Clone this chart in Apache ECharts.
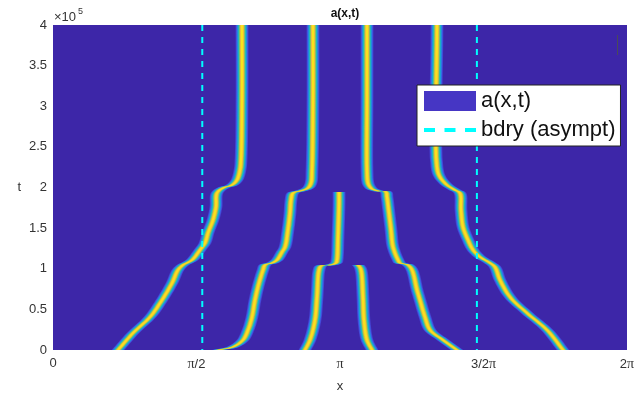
<!DOCTYPE html>
<html>
<head>
<meta charset="utf-8">
<title>a(x,t)</title>
<script src="https://cdn.jsdelivr.net/npm/echarts@6/dist/echarts.min.js"></script>
<style>
  html, body { margin: 0; padding: 0; background: #ffffff; }
  #chart { width: 634px; height: 394px; }
</style>
</head>
<body>
<div id="chart"></div>
<script>
// Spike trajectories of a(x,t): each entry is [x, t]
const spikeL1 = [
  [0.712, 0], [0.876, 20900], [1.062, 40600], [1.193, 61500], [1.303, 82500],
  [1.368, 98500], [1.423, 104600], [1.522, 110800], [1.609, 123100], [1.664, 131700],
  [1.697, 144000], [1.751, 160000], [1.784, 176000], [1.795, 193200], [1.861, 199400],
  [1.959, 203100], [2.014, 209200], [2.047, 221500], [2.058, 233800], [2.069, 307700],
  [2.069, 400000]
];
const spikeL2 = [
  [1.806, 0], [1.970, 3700], [2.080, 12300], [2.135, 24600], [2.178, 40600],
  [2.211, 61500], [2.255, 82500], [2.299, 98500], [2.321, 104600], [2.397, 107100],
  [2.452, 110800], [2.507, 120600], [2.540, 126800], [2.572, 147700], [2.594, 168600],
  [2.605, 184600], [2.627, 193200], [2.704, 195700], [2.791, 199400], [2.824, 205500],
  [2.835, 221500], [2.846, 307700], [2.846, 400000]
];
const spikeL3 = [
  [2.759, 0], [2.813, 12300], [2.868, 36900], [2.890, 65200], [2.912, 98500],
  [2.934, 103400], [3.032, 104600], [3.098, 107100], [3.109, 110800], [3.120, 139100],
  [3.131, 180900], [3.131, 194500]
];
const spikeR3 = [
  [3.492, 0], [3.437, 12300], [3.404, 36900], [3.393, 65200], [3.372, 98500],
  [3.350, 103400], [3.339, 104600]
];
const spikeR2 = [
  [4.422, 0], [4.269, 12300], [4.127, 24600], [4.072, 40600], [4.017, 61500],
  [3.985, 73800], [3.930, 98500], [3.886, 104600], [3.798, 107100], [3.777, 110800],
  [3.722, 126800], [3.700, 147700], [3.678, 168600], [3.656, 188300], [3.645, 194500],
  [3.558, 195700], [3.492, 198200], [3.470, 200600], [3.448, 205500], [3.437, 221500],
  [3.437, 307700], [3.437, 400000]
];
const spikeR1 = [
  [5.583, 0], [5.408, 24600], [5.189, 45500], [5.003, 65200], [4.893, 86200],
  [4.838, 102200], [4.784, 107100], [4.674, 114500], [4.598, 123100], [4.543, 135400],
  [4.488, 151400], [4.466, 172300], [4.455, 193200], [4.400, 196900], [4.313, 203100],
  [4.236, 212900], [4.203, 225200], [4.203, 400000]
];

// Asymptotic boundary positions (x)
const bdryX = [1.634, 4.640];

// Axis extents and tick labels
const tRange = [0, 400000];
const xTickLabels = ['0', '{p|\u03c0}/2', '{p|\u03c0}', '3/2{p|\u03c0}', '2{p|\u03c0}'];
const tTickLabels = ['0', '0.5', '1', '1.5', '2', '2.5', '3', '3.5', '4'];

const FONT = '"Liberation Sans", Arial, Helvetica, sans-serif';
const BG = '#3d26a8';

// Cross-section of a spike: horizontal half-width (px) and parula colour, outermost first
const spikeLayers = [
  [6.4, '#4542d2'],
  [5.6, '#3a66e6'],
  [4.8, '#1e94e0'],
  [4.0, '#14b4c8'],
  [3.3, '#4cc192'],
  [2.6, '#a6c24c'],
  [1.9, '#f2bb3c'],
  [1.1, '#f9e31c']
];

// Centripetal Catmull-Rom through pixel points, for a smooth outline
function smoothPath(pts, steps) {
  if (pts.length < 3) return pts.slice();
  const out = [];
  const ext = [
    [2 * pts[0][0] - pts[1][0], 2 * pts[0][1] - pts[1][1]]
  ].concat(pts, [[
    2 * pts[pts.length - 1][0] - pts[pts.length - 2][0],
    2 * pts[pts.length - 1][1] - pts[pts.length - 2][1]
  ]]);
  function knot(a, b) {
    const d = Math.hypot(b[0] - a[0], b[1] - a[1]);
    return Math.max(Math.sqrt(d), 1e-3);
  }
  function lerp(a, b, ta, tb, t) {
    const u = (t - ta) / (tb - ta);
    return [a[0] + (b[0] - a[0]) * u, a[1] + (b[1] - a[1]) * u];
  }
  for (let i = 1; i < ext.length - 2; i++) {
    const p0 = ext[i - 1], p1 = ext[i], p2 = ext[i + 1], p3 = ext[i + 2];
    const t0 = 0, t1 = t0 + knot(p0, p1), t2 = t1 + knot(p1, p2), t3 = t2 + knot(p2, p3);
    for (let s = 0; s < steps; s++) {
      const t = t1 + (t2 - t1) * s / steps;
      const a1 = lerp(p0, p1, t0, t1, t);
      const a2 = lerp(p1, p2, t1, t2, t);
      const a3 = lerp(p2, p3, t2, t3, t);
      const b1 = lerp(a1, a2, t0, t2, t);
      const b2 = lerp(a2, a3, t1, t3, t);
      out.push(lerp(b1, b2, t1, t2, t));
    }
  }
  out.push(pts[pts.length - 1]);
  return out;
}

// Draws one whole trajectory as nested bands of constant width in x
function spikeRender(params, api) {
  if (params.dataIndexInside !== 0) return null;
  const n = params.dataInsideLength;
  const raw = [];
  for (let i = 0; i < n; i++) {
    raw.push(api.coord([api.value(0, i), api.value(1, i)]));
  }
  const pts = smoothPath(raw, 8);
  const children = spikeLayers.map(function (layer) {
    const hw = layer[0];
    const left = pts.map(function (p) { return [p[0] - hw, p[1]]; });
    const right = pts.slice().reverse().map(function (p) { return [p[0] + hw, p[1]]; });
    return {
      type: 'polygon',
      shape: { points: left.concat(right) },
      style: { fill: layer[1] }
    };
  });
  return { type: 'group', children: children };
}

const spikes = [spikeL1, spikeL2, spikeL3, spikeR3, spikeR2, spikeR1];

const series = spikes.map(function (d) {
  return {
    type: 'custom',
    name: 'a(x,t)',
    data: d,
    encode: { x: 0, y: 1 },
    renderItem: spikeRender,
    clip: true,
    silent: true,
    z: 2
  };
});

bdryX.forEach(function (bx) {
  series.push({
    type: 'line',
    name: 'bdry (asympt)',
    data: [[bx, tRange[1]], [bx, tRange[0]]],
    symbol: 'none',
    silent: true,
    z: 3,
    lineStyle: { color: '#00ffff', width: 2, type: [6, 6] },
    itemStyle: { color: '#00ffff' }
  });
});

const chart = echarts.init(document.getElementById('chart'), null, { renderer: 'canvas' });

chart.setOption({
  animation: false,
  backgroundColor: '#ffffff',
  title: {
    text: 'a(x,t)',
    left: 340,
    top: 3,
    textAlign: 'center',
    textStyle: { fontFamily: FONT, fontSize: 12, fontWeight: 'bold', color: '#111' }
  },
  grid: {
    left: 53, right: 7, top: 25, bottom: 44,
    outerBoundsMode: 'none',
    containLabel: false,
    show: true, backgroundColor: BG, borderWidth: 0
  },
  xAxis: {
    type: 'value',
    min: 0,
    max: 2 * Math.PI,
    interval: Math.PI / 2,
    axisLine: { show: false },
    axisTick: { show: false },
    splitLine: { show: false },
    axisLabel: {
      margin: 7,
      fontFamily: FONT,
      fontSize: 13,
      color: '#333',
      formatter: function (v) { return xTickLabels[Math.round(v / (Math.PI / 2))]; },
      rich: { p: { fontFamily: '"Liberation Serif", "DejaVu Serif", serif', fontSize: 14, color: '#333' } }
    },
    name: 'x',
    nameLocation: 'middle',
    nameGap: 30,
    nameTextStyle: { fontFamily: FONT, fontSize: 13, color: '#333' }
  },
  yAxis: {
    type: 'value',
    min: tRange[0],
    max: tRange[1],
    interval: 50000,
    axisLine: { show: false },
    axisTick: { show: false },
    splitLine: { show: false },
    axisLabel: {
      margin: 6,
      fontFamily: FONT,
      fontSize: 13,
      color: '#333',
      formatter: function (v) { return tTickLabels[Math.round(v / 50000)]; }
    },
    name: 't',
    nameLocation: 'middle',
    nameRotate: 0,
    nameGap: 32,
    nameTextStyle: { fontFamily: FONT, fontSize: 13, color: '#333' }
  },
  legend: {
    orient: 'vertical',
    left: 417,
    top: 85,
    padding: [5, 5, 5, 5],
    itemGap: 7,
    itemWidth: 52,
    itemHeight: 20,
    backgroundColor: '#ffffff',
    borderColor: '#222',
    borderWidth: 1,
    borderRadius: 0,
    selectedMode: false,
    textStyle: { fontFamily: FONT, fontSize: 22, lineHeight: 22, color: '#111' },
    data: [
      { name: 'a(x,t)', icon: 'rect', itemStyle: { color: '#4636c4' } },
      {
        name: 'bdry (asympt)',
        itemStyle: { opacity: 0 },
        lineStyle: { color: '#00ffff', width: 4, type: [11, 9.5] }
      }
    ]
  },
  graphic: [
    {
      type: 'text', left: 54, top: 11,
      style: { text: '\u00d710', font: '13px ' + FONT, fill: '#333' }
    },
    {
      type: 'text', left: 78, top: 7,
      style: { text: '5', font: '9px ' + FONT, fill: '#333' }
    },
    {
      type: 'line',
      shape: { x1: 617.5, y1: 35, x2: 617.5, y2: 55 },
      style: { stroke: '#4a4a5a', lineWidth: 1 },
      z: 10
    }
  ],
  series: series
});
</script>
</body>
</html>
